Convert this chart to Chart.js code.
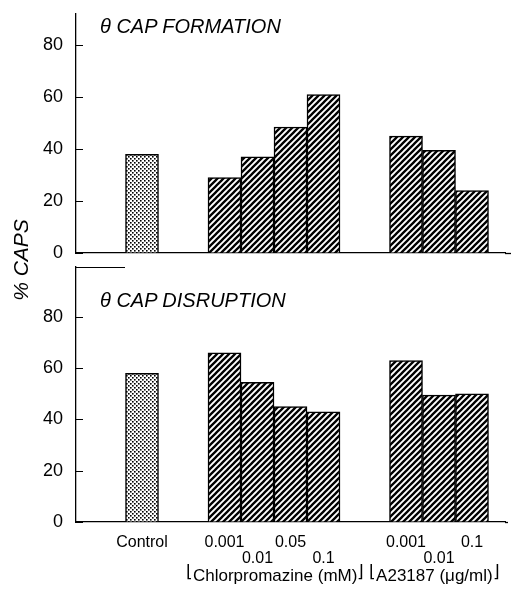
<!DOCTYPE html>
<html>
<head>
<meta charset="utf-8">
<script src="https://cdn.jsdelivr.net/npm/chart.js@4.4.1/dist/chart.umd.min.js"></script>
<style>
  body { margin: 0; background: #fff; }
  #wrap { position: relative; width: 511px; height: 594px; font-family: "Liberation Sans", Arial, sans-serif; color: #000; }
  canvas { position: absolute; left: 0; }
  .lbl { position: absolute; white-space: nowrap; }
  .ttl { font-style: italic; font-size: 20px; line-height: 20px; }
</style>
</head>
<body>
<div id="wrap">
  <canvas id="top" width="511" height="265" style="top:0"></canvas>
  <canvas id="bottom" width="511" height="329" style="top:265px"></canvas>
  <div class="lbl ttl" style="left:100px; top:16px">θ CAP FORMATION</div>
  <div class="lbl ttl" style="left:100px; top:290px">θ CAP DISRUPTION</div>
  <div class="lbl ttl" style="left:-29px; top:250px; width:100px; text-align:center; font-size:21px; transform:rotate(-90deg)">% CAPS</div>
  <div class="lbl" style="left:186px; top:567px; font-size:17px; line-height:17px">
    <span style="position:relative; top:-4px">⌊</span>Chlorpromazine (mM)<span style="position:relative; top:-4px">⌋</span>
    <span style="position:relative; top:-4px">⌊</span>A23187 (μg/ml)<span style="position:relative; top:-4px">⌋</span>
  </div>
</div>
<script>
// category slots are half a bar wide, blank slots are the gaps between groups
var categories = [
  '', '', '', '', 'Control', '', '', '', '',
  'CPZ 0.001', '', 'CPZ 0.01', '', 'CPZ 0.05', '', 'CPZ 0.1', '', '', '', '',
  'A23187 0.001', '', 'A23187 0.01', '', 'A23187 0.1', '', ''
];

// staggered tick labels (second line = lower row)
var tickLabels = [
  '', '', '', '', 'Control', '', '', '', '',
  '0.001', '', ['', '0.01'], '', '0.05', '', ['', '0.1'], '', '', '', '',
  '0.001', '', ['', '0.01'], '', '0.1', '', ''
];

// % caps, theta cap formation
var formation = [
  null, null, null, null, 38, null, null, null, null,
  29, null, 37, null, 48.5, null, 61, null, null, null, null,
  45, null, 39.5, null, 24, null, null
];

// % caps, theta cap disruption
var disruption = [
  null, null, null, null, 58, null, null, null, null,
  66, null, 54.5, null, 45, null, 43, null, null, null, null,
  63, null, 49.5, null, 50, null, null
];

function makeHatch() {
  var c = document.createElement('canvas');
  c.width = 6; c.height = 6;
  var g = c.getContext('2d');
  g.fillStyle = '#fff';
  g.fillRect(0, 0, 6, 6);
  g.strokeStyle = '#000';
  g.lineWidth = 2.3;
  g.beginPath();
  g.moveTo(-1, 7); g.lineTo(7, -1);
  g.moveTo(-1, 1); g.lineTo(1, -1);
  g.moveTo(5, 7); g.lineTo(7, 5);
  g.stroke();
  return g.createPattern(c, 'repeat');
}

function makeDots() {
  var c = document.createElement('canvas');
  c.width = 4; c.height = 4;
  var g = c.getContext('2d');
  g.fillStyle = '#fff';
  g.fillRect(0, 0, 4, 4);
  g.fillStyle = '#000';
  g.fillRect(0, 0, 1.6, 1.6);
  g.fillRect(2, 2, 1.6, 1.6);
  return g.createPattern(c, 'repeat');
}

var hatch = makeHatch();
var dots = makeDots();
var fills = categories.map(function(c) { return c === 'Control' ? dots : hatch; });

// tick marks pointing into the plot, baseline run-out, and the short frame line on the lower panel
var axisMarks = {
  id: 'axisMarks',
  afterDraw: function(chart, args, opts) {
    var a = chart.chartArea, ctx = chart.ctx, y = chart.scales.y;
    ctx.save();
    ctx.strokeStyle = '#000';
    ctx.lineWidth = 1.2;
    ctx.beginPath();
    y.ticks.forEach(function(t, i) {
      var py = Math.round(y.getPixelForTick(i)) + 0.5;
      ctx.moveTo(a.left, py);
      ctx.lineTo(a.left + 7, py);
    });
    if (opts.frame) {
      ctx.moveTo(a.left, a.top + 0.5);
      ctx.lineTo(a.left + 49, a.top + 0.5);
    }
    ctx.stroke();
    ctx.lineWidth = 1.3;
    ctx.beginPath();
    ctx.moveTo(a.right, a.bottom + 0.5);
    ctx.lineTo(a.right + opts.runout, a.bottom + 0.5);
    ctx.stroke();
    ctx.restore();
  }
};

function makeChart(id, values, ymax, showX, padding) {
  return new Chart(document.getElementById(id), {
    type: 'bar',
    data: {
      labels: categories,
      datasets: [{
        data: values,
        backgroundColor: fills,
        borderColor: '#000',
        borderWidth: 1.5,
        barThickness: 33
      }]
    },
    options: {
      responsive: false,
      animation: false,
      events: [],
      layout: { padding: padding },
      plugins: {
        legend: { display: false },
        tooltip: { enabled: false },
        axisMarks: { frame: showX, runout: showX ? 3 : 6 }
      },
      scales: {
        x: {
          type: 'category',
          offset: false,
          grid: { display: false, drawTicks: false },
          border: { color: '#000', width: 1.3 },
          ticks: {
            display: showX,
            autoSkip: false,
            maxRotation: 0,
            minRotation: 0,
            padding: 13,
            color: '#000',
            font: { family: '"Liberation Sans", Arial, sans-serif', size: 16, lineHeight: 1.0 },
            callback: function(v, i) { return tickLabels[i]; }
          },
          afterFit: function(s) {
            s.height = showX ? 72 : 0;
            s.paddingLeft = 0; s.paddingRight = 0;
          }
        },
        y: {
          min: 0,
          max: ymax,
          grid: { drawOnChartArea: false, drawTicks: false },
          border: { color: '#000', width: 1.3 },
          ticks: {
            stepSize: 20,
            includeBounds: false,
            padding: 13,
            color: '#000',
            font: { family: '"Liberation Sans", Arial, sans-serif', size: 18 }
          },
          afterFit: function(s) {
            s.width = 76;
            s.paddingTop = 0; s.paddingBottom = 0;
          }
        }
      }
    },
    plugins: [axisMarks]
  });
}

makeChart('top', formation, 92, false, { top: 14, right: 6, bottom: 12, left: 0 });
makeChart('bottom', disruption, 99.5, true, { top: 2, right: 6, bottom: 0, left: 0 });
</script>
</body>
</html>
